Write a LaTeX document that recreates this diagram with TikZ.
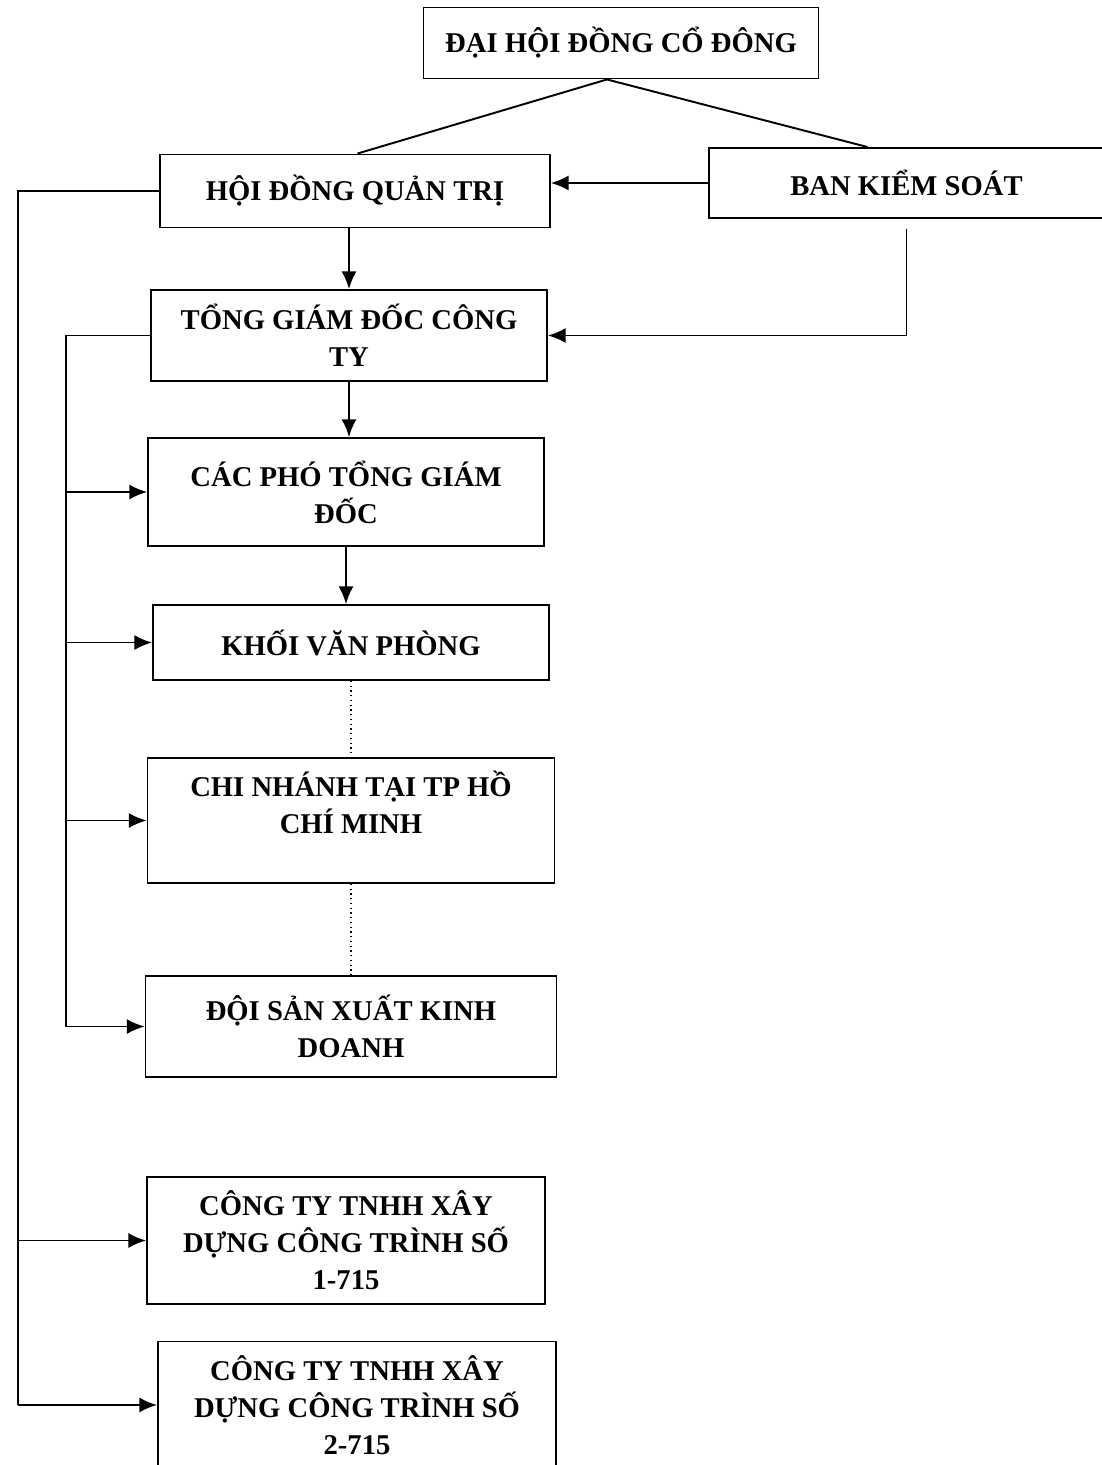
\documentclass[tikz,border=0pt]{standalone}
\usepackage{fontspec}
\setmainfont{Liberation Serif}
\usepackage{tikz}
\usetikzlibrary{shapes,arrows.meta}
\tikzstyle{block} = [rectangle, draw, line width=1.1pt, align=center,
    font=\bfseries\fontsize{16.3}{21}\selectfont, minimum width=7.92cm, inner sep=2pt]
\tikzstyle{line} = [draw, line width=1.1pt, -{Latex[length=10pt,width=8.5pt]}]
\tikzstyle{link} = [draw, line width=1.1pt]
\tikzstyle{dots} = [draw, dotted, line width=0.7pt]

\begin{document}
\begin{tikzpicture}[node distance = 3cm, auto]
 \useasboundingbox (0,0) rectangle (22.02,-29.3);
 \node[block, minimum height=1.42cm, minimum width=7.9cm] (dhcd) at (12.42,-0.86) {ĐẠI HỘI ĐỒNG CỔ ĐÔNG};
 \node[block, minimum height=1.46cm, minimum width=7.8cm] (hdqt) at (7.1,-3.82) {HỘI ĐỒNG QUẢN TRỊ};
 \node[block, minimum height=1.4cm, minimum width=7.9cm] (bks) at (18.13,-3.66) {BAN KIỂM SOÁT};
 \node[block, below of=hdqt, node distance=2.89cm, xshift=-0.12cm, minimum height=1.82cm] (tgd) {TỔNG GIÁM ĐỐC CÔNG\\TY};
 \node[block, below of=tgd, node distance=3.13cm, xshift=-0.06cm, minimum height=2.16cm] (cacpho) {CÁC PHÓ TỔNG GIÁM\\ĐỐC};
 \node[block, below of=cacpho, node distance=3.01cm, xshift=0.1cm, minimum height=1.5cm] (kvp) {KHỐI VĂN PHÒNG};
 \node[block, below of=kvp, node distance=3.56cm, minimum height=2.5cm, minimum width=8.14cm] (cn) {CHI NHÁNH TẠI TP HỒ\\CHÍ MINH\\~};
 \node[block, below of=cn, node distance=4.12cm, minimum height=2.02cm, minimum width=8.22cm] (dsx) {ĐỘI SẢN XUẤT KINH\\DOANH};
 \node[block, below of=dsx, node distance=4.28cm, xshift=-0.1cm, minimum height=2.54cm, minimum width=7.96cm] (ct1) {CÔNG TY TNHH XÂY\\DỰNG CÔNG TRÌNH SỐ\\1-715};
 \node[block, below of=ct1, node distance=3.29cm, xshift=0.22cm, minimum height=2.54cm, minimum width=7.96cm] (ct2) {CÔNG TY TNHH XÂY\\DỰNG CÔNG TRÌNH SỐ\\2-715};
 \coordinate (busa) at (1.32,0);
 \coordinate (busb) at (0.36,0);

\path[link] ([xshift=-0.28cm]dhcd.south) -- ([xshift=0.05cm]hdqt.north);
\path[link] ([xshift=-0.28cm]dhcd.south) -- ([xshift=-0.78cm]bks.north);
\path[line] (bks.west) -- (bks.west -| hdqt.east);
\path[line] (hdqt.south -| tgd) -- (tgd);
\path[line] ([yshift=-0.2cm]bks.south) |- (tgd.east);
\path[line] (tgd) -- (tgd |- cacpho.north);
\path[line] (cacpho) -- (cacpho |- kvp.north);
\path[dots] (kvp) -- (kvp |- cn.north);
\path[dots] (cn) -- (cn |- dsx.north);
% cong ty -> phong ban
\path[link] (tgd.west) -| (dsx.west -| busa);
\path[line] (cacpho.west -| busa) -- (cacpho.west);
\path[line] (kvp.west -| busa) -- (kvp.west);
\path[line] (cn.west -| busa) -- (cn.west);
\path[line] (dsx.west -| busa) -- (dsx.west);
% hoi dong quan tri -> cong ty con
\path[link] (hdqt.west) -| (ct2.west -| busb);
\path[line] (ct1.west -| busb) -- (ct1.west);
\path[line] (ct2.west -| busb) -- (ct2.west);
\end{tikzpicture}
\end{document}
